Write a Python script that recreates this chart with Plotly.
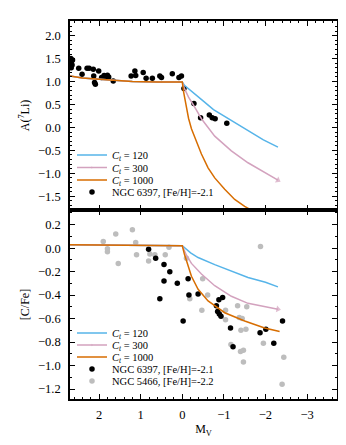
import plotly.graph_objects as go
from plotly.subplots import make_subplots

# ---------------- data ----------------
# Li abundances, NGC 6397
mv_li = [2.68, 2.66, 2.69, 2.65, 2.67, 2.64, 2.49, 2.41, 2.29, 2.24, 2.14, 2.13, 2.09, 2.11,
         2.01, 1.94, 1.88, 1.84, 1.80, 1.77, 1.66, 1.23, 1.14, 1.12, 0.94, 0.87, 0.72, 0.54,
         0.50, 0.24, 0.08, 0.02, -0.04, -0.28, -0.44, -0.65, -0.72, -0.79, -1.07]
a_li = [1.50, 1.45, 1.40, 1.36, 1.30, 1.47, 1.29, 1.16, 1.29, 1.29, 1.27, 1.12, 0.94, 0.98,
        1.23, 1.09, 1.13, 1.10, 1.14, 1.10, 1.01, 1.12, 1.23, 1.13, 1.20, 1.07, 1.07, 1.12,
        1.09, 1.17, 1.09, 1.12, 0.85, 0.52, 0.21, 0.27, 0.21, 0.19, 0.09]

# [C/Fe], NGC 6397
mv_c6397 = [0.81, 0.64, 0.54, 0.44, 0.44, 0.30, 0.12, -0.02, -0.14, -0.16, -0.38, -0.82,
            -0.85, -0.88, -0.89, -0.93, -0.97, -1.16, -1.22, -1.87, -2.01, -2.20, -2.41]
cfe_6397 = [-0.01, -0.085, -0.43, -0.14, -0.28, -0.20, -0.30, -0.62, -0.26, -0.40, -0.39, -0.49,
            -0.54, -0.44, -0.56, -0.58, -0.42, -0.68, -0.84, -0.72, -0.69, -0.81, -0.62]

# [C/Fe], NGC 5466
mv_c5466 = [1.90, 1.80, 1.80, 1.60, 1.54, 1.20, 1.12, 1.10, 0.81, 0.78, 0.66, 0.41, 0.32,
            -0.10, -0.18, -0.47, -0.49, -0.61, -1.04, -1.04, -1.17, -1.33, -1.37, -1.41,
            -1.44, -1.40, -1.47, -1.47, -1.53, -1.55, -1.88, -1.95, -2.44, -2.40]
cfe_5466 = [0.056, -0.03, -0.006, 0.12, -0.13, 0.156, 0.048, -0.057, -0.11, -0.05, -0.057,
            -0.057, 0.008, -0.085, -0.43, -0.53, -0.26, -0.40, -0.53, -0.61, -0.82, -0.49,
            -0.59, -0.70, -0.60, -0.88, -0.87, -0.97, -0.69, -0.50, 0.014, -0.81, -0.93, -1.16]

# model tracks, A(7Li)
mv_li_120 = [2.7, 2.4, 2.0, 1.6, 1.2, 0.6, 0.0, -0.05, -0.15, -0.3, -0.5, -0.75, -1.07, -1.35, -1.6, -1.95, -2.3]
li_120 = [1.12, 1.08, 1.05, 1.02, 1.00, 0.99, 0.99, 0.92, 0.84, 0.74, 0.58, 0.39, 0.21, 0.05, -0.08, -0.27, -0.43]
mv_li_300 = [2.7, 2.4, 2.0, 1.6, 1.2, 0.6, 0.0, -0.05, -0.15, -0.26, -0.46, -0.78, -1.18, -1.58, -1.95, -2.3]
li_300 = [1.12, 1.08, 1.05, 1.02, 1.00, 0.99, 0.99, 0.85, 0.66, 0.50, 0.19, -0.19, -0.51, -0.77, -0.97, -1.15]
mv_li_1000 = [2.7, 2.4, 2.0, 1.6, 1.2, 0.6, 0.0, -0.03, -0.08, -0.15, -0.22, -0.34, -0.46, -0.62, -0.78, -1.02, -1.26, -1.5, -1.75]
li_1000 = [1.12, 1.08, 1.05, 1.02, 1.00, 0.99, 0.99, 0.78, 0.50, 0.20, -0.03, -0.32, -0.58, -0.88, -1.10, -1.35, -1.57, -1.72, -1.85]

# model tracks, [C/Fe]
mv_c_120 = [2.7, 1.5, 0.0, -0.2, -0.38, -0.78, -1.2, -1.58, -2.0, -2.3]
c_120 = [0.03, 0.025, 0.02, -0.04, -0.08, -0.14, -0.20, -0.25, -0.29, -0.33]
mv_c_300 = [2.7, 1.5, 0.0, -0.1, -0.22, -0.46, -0.78, -1.18, -1.58, -2.0, -2.3]
c_300 = [0.03, 0.025, 0.02, -0.06, -0.13, -0.22, -0.32, -0.41, -0.47, -0.50, -0.52]
mv_c_1000 = [2.7, 1.5, 0.0, -0.05, -0.1, -0.22, -0.38, -0.62, -1.02, -1.5, -1.98, -2.34]
c_1000 = [0.03, 0.025, 0.02, -0.05, -0.11, -0.24, -0.35, -0.45, -0.55, -0.62, -0.68, -0.71]

labels_ct = ["<i>C</i><sub><i>t</i></sub> = 120", "<i>C</i><sub><i>t</i></sub> = 300",
             "<i>C</i><sub><i>t</i></sub> = 1000"]
label_6397 = "NGC 6397, [Fe/H]=-2.1"
label_5466 = "NGC 5466, [Fe/H]=-2.2"

# ---------------- style ----------------
BLUE = "#56B4E9"
PINK = "#D3A2BE"
ORANGE = "#D76D00"
GRAY = "#BDBDBD"
FONT = "Liberation Serif"

fig = make_subplots(rows=2, cols=1, shared_xaxes=True, vertical_spacing=0)


def end_marker(n, sym):
    return dict(symbol=[sym] * n, size=[0] * (n - 1) + [6], angleref="previous",
                line=dict(width=0))


# top panel
fig.add_trace(go.Scatter(x=mv_li, y=a_li, mode="markers", name=label_6397,
                         marker=dict(color="black", size=5.5), legend="legend4"), row=1, col=1)
fig.add_trace(go.Scatter(x=mv_li_120, y=li_120, mode="lines", name=labels_ct[0],
                         line=dict(color=BLUE, width=1.5), legend="legend"), row=1, col=1)
fig.add_trace(go.Scatter(x=mv_li_300, y=li_300, mode="lines+markers", name=labels_ct[1],
                         line=dict(color=PINK, width=1.5),
                         marker=dict(color=PINK, **end_marker(len(mv_li_300), "triangle-up")),
                         legend="legend2"), row=1, col=1)
fig.add_trace(go.Scatter(x=mv_li_1000, y=li_1000, mode="lines", name=labels_ct[2],
                         line=dict(color=ORANGE, width=1.5), legend="legend3"), row=1, col=1)

# bottom panel
fig.add_trace(go.Scatter(x=mv_c5466, y=cfe_5466, mode="markers", name=label_5466,
                         marker=dict(color=GRAY, size=5.5), legend="legend9"), row=2, col=1)
fig.add_trace(go.Scatter(x=mv_c6397, y=cfe_6397, mode="markers", name=label_6397,
                         marker=dict(color="black", size=5.5), legend="legend8"), row=2, col=1)
fig.add_trace(go.Scatter(x=mv_c_120, y=c_120, mode="lines", name=labels_ct[0],
                         line=dict(color=BLUE, width=1.5), legend="legend5"), row=2, col=1)
fig.add_trace(go.Scatter(x=mv_c_300, y=c_300, mode="lines+markers", name=labels_ct[1],
                         line=dict(color=PINK, width=1.5),
                         marker=dict(color=PINK, **end_marker(len(mv_c_300), "triangle-up")),
                         legend="legend6"), row=2, col=1)
fig.add_trace(go.Scatter(x=mv_c_1000, y=c_1000, mode="lines", name=labels_ct[2],
                         line=dict(color=ORANGE, width=1.5), legend="legend7"), row=2, col=1)

W, H = 346, 445
ML, MR, MT, MB = 62, 17, 13, 54
PH = H - MT - MB


def py2paper(py):
    return (H - MB - py) / PH


leg_x = (64 - ML) / (W - ML - MR)
rows_top = [147, 159.5, 172, 184]
rows_bot = [325, 337, 349, 361, 373]
legend_names = ["legend", "legend2", "legend3", "legend4",
                "legend5", "legend6", "legend7", "legend8", "legend9"]
legend_rows = rows_top + rows_bot
leg_layout = {}
for name, py in zip(legend_names, legend_rows):
    leg_layout[name] = dict(x=leg_x, y=py2paper(py), xanchor="left", yanchor="middle",
                            bgcolor="rgba(0,0,0,0)", borderwidth=0,
                            font=dict(family=FONT, size=10.5, color="black"),
                            itemwidth=30)

fig.update_layout(width=W, height=H, margin=dict(l=ML, r=MR, t=MT, b=MB),
                  paper_bgcolor="white", plot_bgcolor="white",
                  font=dict(family=FONT, size=12.5, color="black"),
                  showlegend=True, **leg_layout)

axis_common = dict(showline=True, linecolor="black", linewidth=1.5, mirror="ticks",
                   ticks="inside", ticklen=5, tickwidth=1, tickcolor="black",
                   showgrid=False, zeroline=False,
                   tickfont=dict(family=FONT, size=12.5, color="black"))

fig.update_xaxes(**axis_common, range=[2.7, -3.72], dtick=1, tick0=0, ticklabelstandoff=3,
                 minor=dict(ticks="inside", ticklen=2.5, dtick=0.2, tick0=0, tickcolor="black"))
fig.update_xaxes(showticklabels=False, row=1, col=1)
fig.update_xaxes(title=dict(text="M<sub>V</sub>", font=dict(family=FONT, size=12), standoff=4),
                 row=2, col=1)

fig.update_yaxes(**axis_common, ticklabelstandoff=5)
fig.update_yaxes(range=[-1.8, 2.32], dtick=0.5, tick0=0, tickformat=".1f",
                 minor=dict(ticks="inside", ticklen=2.5, dtick=0.1, tick0=0, tickcolor="black"),
                 title=dict(text="A(<sup>7</sup>Li)", font=dict(family=FONT, size=12), standoff=6),
                 row=1, col=1)
fig.update_yaxes(range=[-1.285, 0.325], dtick=0.2, tick0=0, tickformat=".1f",
                 minor=dict(ticks="inside", ticklen=2.5, dtick=0.1, tick0=0, tickcolor="black"),
                 title=dict(text="[C/Fe]", font=dict(family=FONT, size=12), standoff=6),
                 row=2, col=1)

fig.write_html("out.html")
